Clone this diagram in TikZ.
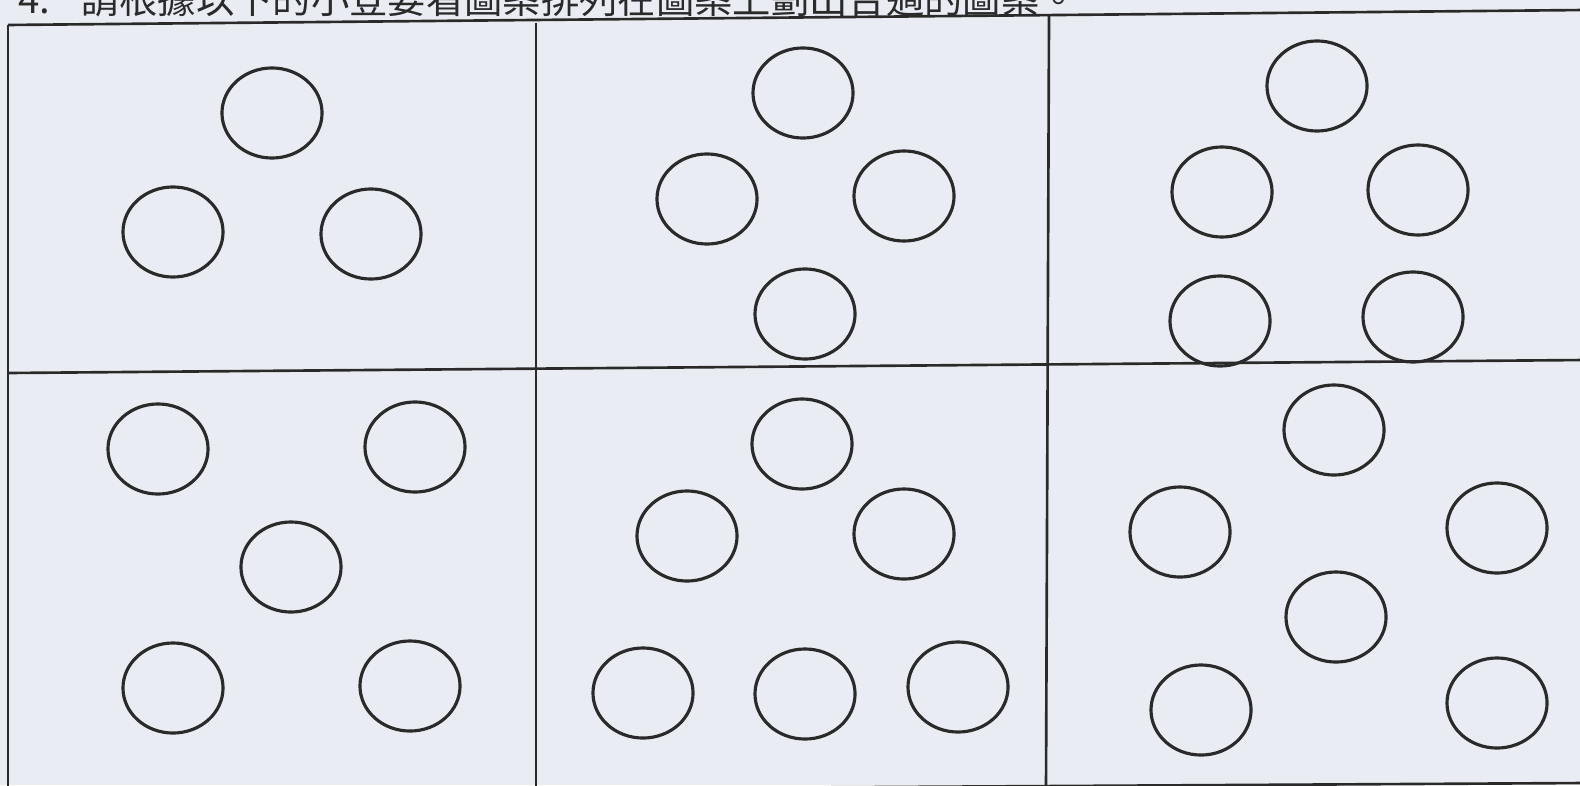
\documentclass[tikz,border=0pt]{standalone}
\usepackage{fontspec}
\newfontfamily\cjk{Noto Sans CJK TC}
\usetikzlibrary{shapes.geometric}
\definecolor{paper}{HTML}{E9EDF3}
\definecolor{ink}{HTML}{2A2A2A}
\tikzset{
  ring/.style={ellipse, draw=ink, line width=0.9pt, minimum width=1cm, minimum height=0.9cm, inner sep=0pt},
  frame/.style={draw=ink, line width=0.75pt}
}
\begin{document}
\begin{tikzpicture}[x=0.01cm, y=-0.01cm]
\useasboundingbox (0,0) rectangle (1580,785);
\clip (0,0) rectangle (1580,785);
\fill[paper] (0,0) rectangle (1580,785);
% title (cut off at the top, as in the reference)
\node[anchor=west, inner sep=0pt, text=ink, font=\cjk\fontsize{10.9pt}{12pt}\selectfont] (title) at (18,-1) {4.\hspace{0.8em}請根據以下的小登要看圖案排列在圖案上劃出合適的圖案。};
% frame
\coordinate (tl) at (8,25);
\coordinate (tr) at (1585,10);
\coordinate (bl) at (8,792);
\coordinate (br) at (1585,783);
\coordinate (ml) at (8,373);
\coordinate (mr) at (1585,360);
\coordinate (v1t) at (536,23);
\coordinate (v1b) at (536,790);
\coordinate (v2t) at (1049,16);
\coordinate (v2b) at (1046,787);
\draw[frame] (tl) -- (tr);
\draw[frame] (bl) -- (br);
\draw[frame] (tl) -- (bl);
\draw[frame] (ml) -- (mr);
\draw[frame] (v1t) -- (v1b);
\draw[frame] (v2t) -- (v2b);
% panel 1
\node[ring] (a1) at (272,113) {};
\node[ring] (a2) at (173,232) {};
\node[ring] (a3) at (371,234) {};
% panel 2
\node[ring] (b1) at (803,93) {};
\node[ring] (b2) at (707,199) {};
\node[ring] (b3) at (904,196) {};
\node[ring] (b4) at (805,314) {};
% panel 3
\node[ring] (c1) at (1317,86) {};
\node[ring] (c2) at (1222,192) {};
\node[ring] (c3) at (1418,190) {};
\node[ring] (c4) at (1220,321) {};
\node[ring] (c5) at (1413,317) {};
% panel 4
\node[ring] (d1) at (158,449) {};
\node[ring] (d2) at (415,447) {};
\node[ring] (d3) at (291,567) {};
\node[ring] (d4) at (173,688) {};
\node[ring] (d5) at (410,686) {};
% panel 5
\node[ring] (e1) at (802,444) {};
\node[ring] (e2) at (687,536) {};
\node[ring] (e3) at (904,534) {};
\node[ring] (e4) at (643,693) {};
\node[ring] (e5) at (805,694) {};
\node[ring] (e6) at (958,687) {};
% panel 6
\node[ring] (f1) at (1334,430) {};
\node[ring] (f2) at (1180,532) {};
\node[ring] (f3) at (1497,528) {};
\node[ring] (f4) at (1336,617) {};
\node[ring] (f5) at (1201,710) {};
\node[ring] (f6) at (1497,703) {};
\end{tikzpicture}
\end{document}
